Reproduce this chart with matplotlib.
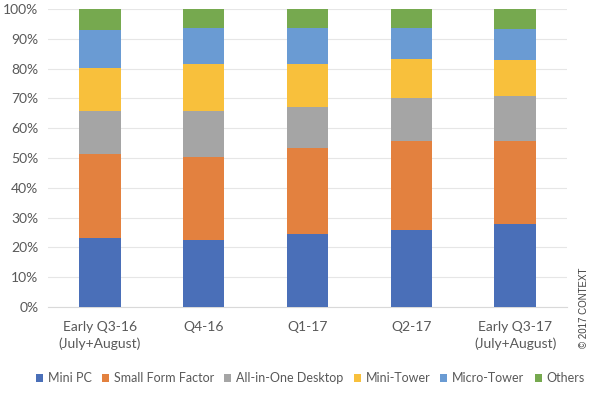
import matplotlib.pyplot as plt
import numpy as np

categories = ["Early Q3-16\n(July+August)", "Q4-16", "Q1-17", "Q2-17",
              "Early Q3-17\n(July+August)"]
series_names = ["Mini PC", "Small Form Factor", "All-in-One Desktop",
                "Mini-Tower", "Micro-Tower", "Others"]
mini_pc = [23.2, 22.5, 24.6, 25.8, 27.9]
small_form_factor = [28.0, 27.9, 28.8, 29.9, 27.8]
all_in_one = [14.5, 15.3, 13.7, 14.6, 15.0]
mini_tower = [14.4, 15.8, 14.6, 12.8, 12.2]
micro_tower = [12.8, 12.2, 12.0, 10.6, 10.3]
others = [7.1, 6.3, 6.3, 6.3, 6.8]
colors = ["#4A6FB8", "#E3813F", "#A5A5A5", "#F8C03C", "#6A9BD3", "#76A94F"]

series = [mini_pc, small_form_factor, all_in_one, mini_tower, micro_tower, others]

plt.rcParams["font.family"] = ["Lato", "DejaVu Sans"]
fig = plt.figure(figsize=(6, 3.96), dpi=100)
ax = fig.add_axes([0.08, 0.225, 0.865, 0.752])

x = np.arange(len(categories))
bottom = np.zeros(len(categories))
for name, vals, c in zip(series_names, series, colors):
    ax.bar(x, vals, 0.4, bottom=bottom, color=c, label=name, zorder=3)
    bottom += np.array(vals)

ax.set_xlim(-0.5, len(categories) - 0.5)
ax.set_ylim(0, 100)
ax.set_yticks(np.arange(0, 101, 10))
ax.set_yticklabels([f"{v}%" for v in range(0, 101, 10)])
ax.set_xticks(x)
ax.set_xticklabels(categories, linespacing=1.45)
ax.grid(axis="y", color="#E6E6E6", linewidth=0.8, zorder=0)
for s in ["top", "right", "left"]:
    ax.spines[s].set_visible(False)
ax.spines["bottom"].set_color("#D9D9D9")
ax.tick_params(axis="both", length=0, labelsize=10, colors="#595959")
ax.tick_params(axis="x", pad=10)
ax.tick_params(axis="y", pad=7)

fig.legend(loc="center", bbox_to_anchor=(0.5175, 0.045), ncol=6, frameon=False,
           fontsize=9, handlelength=0.56, handleheight=0.56, handletextpad=0.4,
           columnspacing=0.8, borderpad=0.2, labelcolor="#595959")

fig.text(0.973, 0.121, "© 2017 CONTEXT", rotation=90, fontsize=7,
         family="Liberation Sans", color="#404040", ha="center", va="bottom")

fig.savefig("out.png", dpi=100)
